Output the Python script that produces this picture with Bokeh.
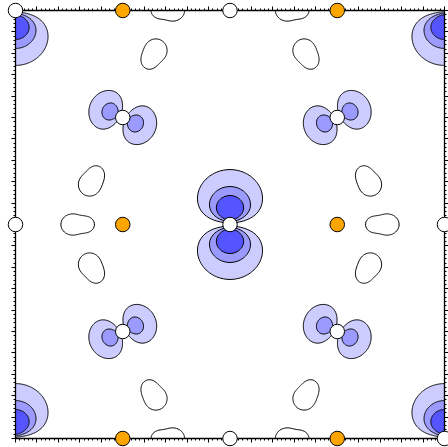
import numpy as np
from bokeh.plotting import figure
from bokeh.models import LinearAxis, SingleIntervalTicker, CustomJSTickFormatter, Range1d
from bokeh.embed import file_html
from bokeh.resources import INLINE

# one screen pixel expressed in cell units
PX = 1 / 428.5

# lattice sites (fractional cell coordinates)
white_x = [0.0, 0.5, 0.0, 0.5, 1.0, 0.5, 1.0]
white_y = [1.0, 1.0, 0.5, 0.5, 0.5, 0.0, 0.0]
orange_x = [0.25, 0.75, 0.25, 0.75, 0.25, 0.75]
orange_y = [1.0, 1.0, 0.5, 0.5, 0.0, 0.0]
orange_side = [1, -1, -1, 1, 1, -1]          # side on which the depletion pockets sit
bridge_x = [0.25, 0.75, 0.25, 0.75]
bridge_y = [0.75, 0.75, 0.25, 0.25]
bridge_angle = [-25, 25, 25, -25]            # lobe axis, degrees
lobe_x = [0.0, 1.0, 0.5, 0.0, 1.0]
lobe_y = [1.0, 1.0, 0.5, 0.0, 0.0]

# contour levels
density_levels = [0.165, 0.556, 1.105]
hole_level = -0.5
fill_colors = ["#ccccff", "#9a9aff", "#5555ff"]

# depletion pockets around each orange site (pixel offsets, widths)
hole_dx = [50, 35, 33, 26, 33, 26]
hole_dy = [0, 0, 40, 51, -40, -51]
hole_sx = [10, 5, 9.6, 5.2, 9.6, 5.2]
hole_sy = [9, 5, 9.8, 5.6, 9.8, 5.6]

# density model on the cell grid
gx = np.linspace(0, 1, 431)
gy = np.linspace(0, 1, 430)
X, Y = np.meshgrid(gx, gy)
Z = np.zeros_like(X)

ell, a1, a2, k = 29 * PX, 6 * PX, 12 * PX, 0.0346
for xc, yc in zip(lobe_x, lobe_y):
    dx, dy = X - xc, Y - yc
    r = np.hypot(dx, dy)
    Z += 100 * (dy / ell) ** 2 * (np.exp(-r / a1) + k * np.exp(-r / a2))

aq = 6.07 * PX
for xc, yc, ang in zip(bridge_x, bridge_y, bridge_angle):
    t = np.radians(ang)
    dx, dy = X - xc, Y - yc
    r = np.hypot(dx, dy)
    par = dx * np.cos(t) + dy * np.sin(t)
    Z += 36.0 * (par / ell) ** 2 * np.exp(-r / aq)

for xo, yo, s in zip(orange_x, orange_y, orange_side):
    for ox, oy, sx, sy in zip(hole_dx, hole_dy, hole_sx, hole_sy):
        cx, cy = xo + s * ox * PX, yo + oy * PX
        Z -= np.exp(-((X - cx) ** 2 / (2 * (sx * PX) ** 2) + (Y - cy) ** 2 / (2 * (sy * PX) ** 2)))

p = figure(width=448, height=447,
           x_range=Range1d(-15 / 429, 1 + 4 / 429), y_range=Range1d(-9 / 428, 1 + 10 / 428),
           output_backend="svg", toolbar_location=None,
           x_axis_location=None, y_axis_location=None, min_border=0)
p.outline_line_color = None
p.background_fill_color = "white"
for g in p.grid:
    g.visible = False

p.contour(gx, gy, Z, levels=density_levels + [float(Z.max()) + 1.0],
          fill_color=fill_colors, line_color=None)
p.contour(gx, gy, Z, levels=[hole_level] + density_levels,
          line_color="black", line_width=1)

ticker = SingleIntervalTicker(interval=0.05, num_minor_ticks=5)
blank = CustomJSTickFormatter(code="return ''")
for side, loc in [("left", 0.0), ("right", 1.0), ("below", 0.0), ("above", 1.0)]:
    ax = LinearAxis(fixed_location=loc, bounds=(0, 1), ticker=ticker, formatter=blank,
                    major_tick_out=4, major_tick_in=0, minor_tick_out=2, minor_tick_in=0,
                    axis_line_color="black", axis_line_width=1.3,
                    major_tick_line_color="black", minor_tick_line_color="black",
                    major_label_text_font_size="0px")
    p.add_layout(ax, side)

for xs, ys, col in [(white_x, white_y, "white"), (orange_x, orange_y, "orange"),
                    (bridge_x, bridge_y, "white")]:
    rr = p.scatter(xs, ys, size=14.5, fill_color=col, line_color="black", line_width=1)
    rr.level = "overlay"

open("out.html", "w").write(file_html(p, INLINE))
